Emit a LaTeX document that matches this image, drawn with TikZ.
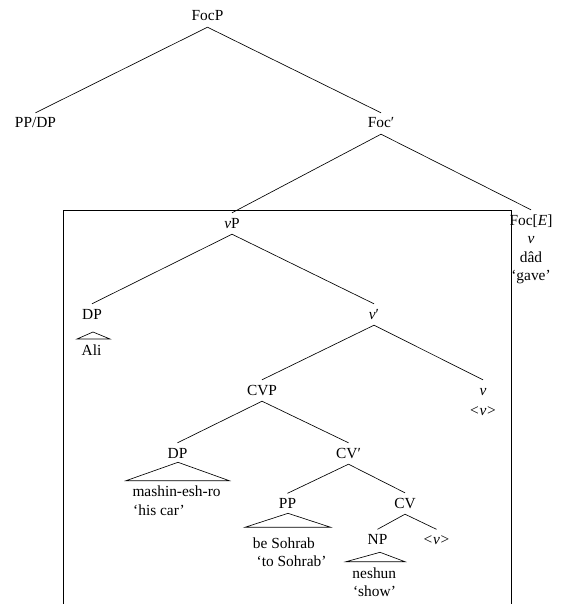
\documentclass[tikz,border=0pt]{standalone}
\usepackage{fontspec}
\setmainfont{Liberation Serif}
\begin{document}
\begin{tikzpicture}[x=1pt,y=-1pt,
  font=\fontsize{15.4}{18.5}\selectfont,
  cat/.style={anchor=base, text height=13pt, text depth=4pt, inner xsep=1pt, inner ysep=2pt},
  word/.style={anchor=base, inner sep=0pt},
  wordl/.style={anchor=base west, inner sep=0pt},
  edge/.style={line width=0.65pt},
  roof/.style={line width=0.65pt},
  frame/.style={line width=0.9pt}]
\useasboundingbox (0,0) rectangle (561,604);

% nodes
\node[cat] (FocP) at (207.5,21) {FocP};
\node[cat] (PPDP) at (35.5,128) {PP/DP};
\node[cat] (Focbar) at (381,128) {Foc′};
\node[cat] (FocE) at (531,225) {Foc[\textit{E}]};
\node[word] (FocEv) at (531,243.5) {\textit{v}};
\node[word] (dad) at (531,262) {dâd};
\node[word] (gave) at (531,280.5) {‘gave’};
\node[cat] (vP) at (232,228) {\textit{v}P};
\node[cat] (DPa) at (92,319) {DP};
\node[word] (Ali) at (91.5,355) {Ali};
\node[cat] (vbar) at (374,319) {\textit{v}′};
\node[cat] (CVP) at (262,395) {CVP};
\node[cat] (vhead) at (483,395) {\textit{v}};
\node[word] (vtrace) at (483,415) {<\kern0.8pt\textit{v}\kern0.8pt>};
\node[cat] (DPb) at (177.5,458) {DP};
\node[wordl] (mashin) at (132.3,496.7) {mashin-esh-ro};
\node[wordl] (hiscar) at (133,515) {‘his car’};
\node[cat] (CVbar) at (348.5,458) {CV′};
\node[cat] (PP) at (287.5,508.5) {PP};
\node[wordl] (beS) at (252.7,548) {be Sohrab};
\node[wordl] (toS) at (256.5,566) {‘to Sohrab’};
\node[cat] (CV) at (405,508) {CV};
\node[cat] (NP) at (377.5,544.5) {NP};
\node[cat] (vtr) at (436.5,544.5) {<\kern0.8pt\textit{v}\kern0.8pt>};
\node[word] (neshun) at (374.3,578) {neshun};
\node[word] (show) at (374.5,596) {‘show’};

% edges
\draw[edge] (FocP.south) -- (PPDP.north);
\draw[edge] (FocP.south) -- (Focbar.north);
\draw[edge] (Focbar.south) -- (vP.north);
\draw[edge] (Focbar.south) -- (FocE.north);
\draw[edge] (vP.south) -- (DPa.north);
\draw[edge] (vP.south) -- (vbar.north);
\draw[edge] (vbar.south) -- (CVP.north);
\draw[edge] (vbar.south) -- (vhead.north);
\draw[edge] (CVP.south) -- (DPb.north);
\draw[edge] (CVP.south) -- (CVbar.north);
\draw[edge] (CVbar.south) -- (PP.north);
\draw[edge] (CVbar.south) -- (CV.north);
\draw[edge] (CV.south) -- (NP.north);
\draw[edge] (CV.south) -- (vtr.north);

% roofs
\draw[roof] (DPa.base) ++(1,13) -- ++(-16,7) -- ++(33,0) -- cycle;
\draw[roof] (DPb.base) ++(0.5,4.3) -- ++(-52,18.4) -- ++(103.3,0) -- cycle;
\draw[roof] (PP.base) ++(0.5,4.8) -- ++(-43,14) -- ++(85.7,0) -- cycle;
\draw[roof] (NP.base) ++(2.5,7.8) -- ++(-34,9.4) -- ++(59,0) -- cycle;

% frame
\draw[frame] (63.5,604) -- (63.5,210.7) -- (511,210.7) -- (511,604);
\end{tikzpicture}
\end{document}
